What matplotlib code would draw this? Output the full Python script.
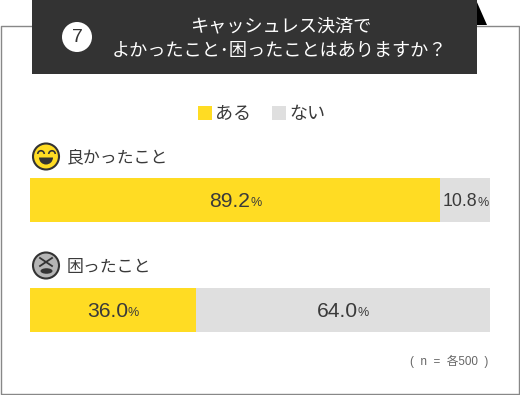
import matplotlib
matplotlib.use("Agg")
import matplotlib.pyplot as plt
from matplotlib.patches import Rectangle, Circle, Polygon, Wedge, Arc, Ellipse

plt.rcParams['font.family'] = ['Noto Sans CJK JP', 'DejaVu Sans']

categories = ["良かったこと", "困ったこと"]
aru = [89.2, 36.0]
nai = [10.8, 64.0]
legend_labels = ["ある", "ない"]
title_lines = ["キャッシュレス決済で", "よかったこと･困ったことはありますか？"]
number_label = "7"
note = "(  n  =  各500  )"

YELLOW = "#ffdc23"
GREY = "#dfdfdf"
DARK = "#333333"
TEXT = "#3a3a3a"
LATIN = ['Liberation Sans', 'Noto Sans CJK JP']
W, H = 520, 395


def main():
    fig = plt.figure(figsize=(W / 100, H / 100), dpi=100)

    # whole figure in pixels for the frame, header etc
    bg = fig.add_axes([0, 0, 1, 1])
    bg.set_xlim(0, W)
    bg.set_ylim(H, 0)
    bg.axis("off")

    # frame
    bg.plot([32, 1, 1, 519, 519, 477], [25.5, 25.5, 394, 394, 25.5, 25.5], c="#888888", lw=1)
    bg.add_patch(Polygon([[474, 0], [476, 0], [487, 25], [474, 25]], fc="black", ec="none"))
    bg.add_patch(Rectangle((32, 0), 445, 74, fc=DARK, ec="none", zorder=3))

    # header
    bg.add_patch(Circle((77, 37), 15, fc="white", ec="none", zorder=4))
    bg.text(77, 37, number_label, color=DARK, fontsize=14, family=LATIN, ha="center", va="center", zorder=5)
    bg.text(280.5, 26.5, title_lines[0], color="white", fontsize=13.1, ha="center", va="center", zorder=5)
    bg.text(279.5, 51, title_lines[1], color="white", fontsize=13.1, ha="center", va="center", zorder=5)

    # legend
    bg.add_patch(Rectangle((198, 106), 13.5, 14, fc=YELLOW, ec="none"))
    bg.text(215, 114.5, legend_labels[0], color=TEXT, fontsize=13, ha="left", va="center")
    bg.add_patch(Rectangle((272, 106), 13.5, 14, fc=GREY, ec="none"))
    bg.text(289, 114.5, legend_labels[1], color=TEXT, fontsize=13, ha="left", va="center")

    # category titles
    bg.text(67, 157, categories[0], color=TEXT, fontsize=12.2, ha="left", va="center")
    bg.text(67, 267, categories[1], color=TEXT, fontsize=12.2, ha="left", va="center")

    # smiling face
    bg.add_patch(Circle((46, 156.5), 13, fc=YELLOW, ec=DARK, lw=1.5))
    bg.add_patch(Arc((41, 154), 6.5, 6.5, theta1=180, theta2=360, ec=DARK, lw=1.2))
    bg.add_patch(Arc((52, 154), 6.5, 6.5, theta1=180, theta2=360, ec=DARK, lw=1.2))
    bg.add_patch(Wedge((46, 157.5), 7, 0, 180, fc=DARK, ec="none"))

    # troubled face
    bg.add_patch(Circle((46, 265.5), 13, fc="#b5b5b5", ec=DARK, lw=1.5))
    bg.plot([40, 52], [258, 266], c=DARK, lw=1.3)
    bg.plot([52, 40], [258, 266], c=DARK, lw=1.3)
    bg.add_patch(Ellipse((46.5, 271), 12, 5.5, fc=DARK, ec="none"))

    # note
    bg.text(488.5, 361.5, note, color="#666666", fontsize=8.4, family=LATIN, ha="right", va="center")

    # bars
    ax = fig.add_axes([30 / W, 1 - 332.5 / H, 460 / W, 155 / H])
    ax.set_xlim(0, 100)
    ax.set_ylim(1 + 22.5 / 110, -22.5 / 110)
    ax.axis("off")
    ax.patch.set_alpha(0)
    y = range(len(categories))
    ax.barh(y, aru, height=0.405, color=YELLOW)
    ax.barh(y, nai, left=aru, height=0.405, color=GREY)

    for i in y:
        for left, val in [(0, aru[i]), (aru[i], nai[i])]:
            size, pct, split = 15.2, 9, 15
            if val < 15:
                size, pct, split = 12.8, 9, 12
            cx = left + val / 2
            ax.annotate("%.1f" % val, (cx, i), xytext=(split * 0.72, -1.4), textcoords="offset points",
                        ha="right", va="center", fontsize=size, color=TEXT, family=LATIN)
            ax.annotate("%", (cx, i), xytext=(split * 0.72, -2.2), textcoords="offset points",
                        ha="left", va="center", fontsize=pct, color=TEXT, family=LATIN)

    fig.savefig("out.png", dpi=100)


if __name__ == "__main__":
    main()
